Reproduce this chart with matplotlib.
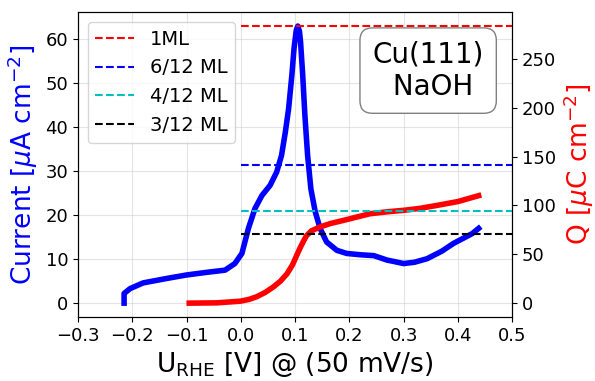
import numpy as np
import matplotlib.pyplot as plt

# current (blue, left axis)
u_cur = [-0.215, -0.215, -0.204, -0.180, -0.137, -0.100, -0.063, -0.029, -0.011, 0.002,
         0.014, 0.026, 0.039, 0.054, 0.066, 0.075, 0.082, 0.088, 0.094, 0.098,
         0.102, 0.105, 0.108, 0.110, 0.114, 0.118, 0.123, 0.129, 0.137, 0.146, 0.158,
         0.177, 0.195, 0.220, 0.245, 0.269, 0.300, 0.320, 0.343, 0.370, 0.392,
         0.426, 0.438]
current = [0.0, 2.2, 3.3, 4.6, 5.6, 6.4, 7.0, 7.5, 9.0, 11.3,
           17.0, 21.5, 24.5, 26.8, 29.8, 33.6, 38.9, 44.2, 51.8, 57.9,
           62.0, 63.0, 61.8, 59.4, 51.8, 42.7, 33.6, 26.0, 20.8, 17.0, 13.9,
           12.0, 11.3, 11.0, 10.8, 9.8, 9.0, 9.3, 10.1, 11.8, 13.6,
           15.8, 17.0]

# charge (red, right axis)
u_q = [-0.095, -0.044, -0.001, 0.015, 0.029, 0.045, 0.060, 0.073, 0.085, 0.095,
       0.103, 0.110, 0.116, 0.121, 0.130, 0.146, 0.165, 0.189, 0.238, 0.270,
       0.300, 0.330, 0.361, 0.400, 0.438]
charge = [0.0, 0.3, 2.0, 3.8, 6.5, 11.0, 16.6, 22.5, 30.0, 39.0,
          49.0, 57.5, 64.0, 69.0, 74.0, 78.0, 81.5, 84.7, 91.5, 93.5,
          95.0, 97.0, 100.0, 104.0, 110.0]

ml_charge = 283.6
ml_labels = ['1ML', '6/12 ML', '4/12 ML', '3/12 ML']
ml_frac = [1.0, 6 / 12, 4 / 12, 3 / 12]
ml_colors = ['r', 'b', 'c', 'k']

fig, ax = plt.subplots(figsize=(5.95, 3.81), dpi=100)
fig.subplots_adjust(left=0.131, right=0.861, bottom=0.168, top=0.968)
ax2 = ax.twinx()

ax.plot(u_cur, current, color='b', lw=4, zorder=3, solid_joinstyle='round')
ax2.plot(u_q, charge, color='r', lw=4, solid_joinstyle='round')

handles = []
for lab, fr, c in zip(ml_labels, ml_frac, ml_colors):
    h = ax2.hlines(ml_charge * fr, 0.0, 0.5, colors=c, linestyles='--', lw=1.5, label=lab)
    handles.append(h)

ax.set_xlim(-0.3, 0.5)
ax.set_xticks(np.arange(-0.3, 0.51, 0.1))
ax.set_xticklabels(['−0.3', '−0.2', '−0.1', '0.0', '0.1', '0.2', '0.3', '0.4', '0.5'])
ax.grid(True, color='lightgrey', alpha=0.6)
ax.tick_params(labelsize=13)
ax2.tick_params(labelsize=13)
ax2.set_yticks([0, 50, 100, 150, 200, 250])

ax.set_xlabel(r'U$_{\rm RHE}$ [V] @ (50 mV/s)', fontsize=19)
ax.set_ylabel(r'Current [$\mu$A cm$^{-2}$]', fontsize=19, color='b')
ax2.set_ylabel(r'Q [$\mu$C cm$^{-2}$]', fontsize=19, color='r')

ax2.legend(handles=handles, loc='upper left', fontsize=14)
ax2.text(0.345, 238, 'Cu(111)\n NaOH', fontsize=20, ha='center', va='center',
         bbox=dict(boxstyle='round,pad=0.45', facecolor='white', edgecolor='grey'))

fig.savefig('out.png')
